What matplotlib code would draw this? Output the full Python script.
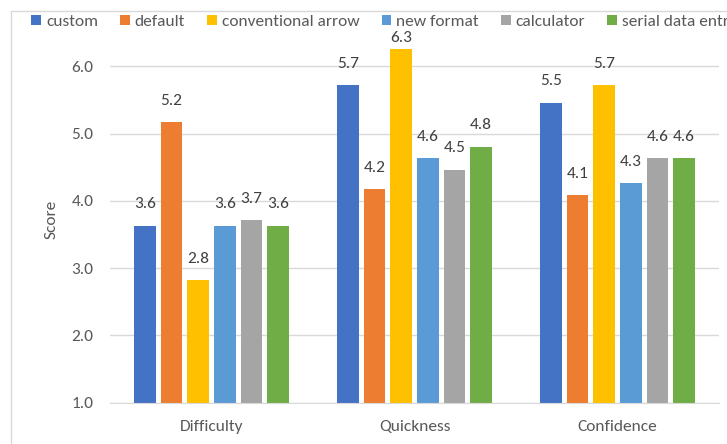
import numpy as np
import matplotlib
matplotlib.use("Agg")
import matplotlib.pyplot as plt
from matplotlib.patches import Rectangle

plt.rcParams['font.family'] = ['Carlito', 'Lato', 'DejaVu Sans']

categories = ["Difficulty", "Quickness", "Confidence"]
series = ["custom", "default", "conventional arrow", "new format", "calculator", "serial data entry"]

custom = [3.63, 5.72, 5.46]
default = [5.17, 4.17, 4.08]
conventional_arrow = [2.82, 6.26, 5.72]
new_format = [3.63, 4.63, 4.26]
calculator = [3.71, 4.46, 4.63]
serial_data_entry = [3.63, 4.80, 4.63]

values = [custom, default, conventional_arrow, new_format, calculator, serial_data_entry]
colors = ["#4472C4", "#ED7D31", "#FFC000", "#5B9BD5", "#A5A5A5", "#70AD47"]

W, H = 727, 444
fs = 12.5
fig = plt.figure(figsize=(W / 100, H / 100), dpi=100)
# chart border (cropped on the right and bottom)
fig.patches.append(Rectangle((11 / W, -0.1), 2, 1 - 11 / H + 0.1, transform=fig.transFigure,
                             fill=False, edgecolor="#D9D9D9", linewidth=1))

ax = fig.add_axes([110 / W, (H - 402.5) / H, 609 / W, 366.5 / H])
ymin, ymax = 1.0, 6.45
ax.set_ylim(ymin, ymax)
ax.set_xlim(-0.5, len(categories) - 0.5)

x = np.arange(len(categories))
pitch = 0.131
bw = 0.107
pt_per_unit = (366.5 / (ymax - ymin)) * 0.72
pad = 15.5

handles = []
for i, (name, vals, c) in enumerate(zip(series, values, colors)):
    pos = x + (i - 2.5) * pitch
    b = ax.bar(pos, np.array(vals) - ymin, bw, bottom=ymin, color=c, label=name, zorder=3)
    handles.append(b)
    for px, v in zip(pos, vals):
        # keep labels inside the plot area like Excel does
        off = min(pad, (6.42 - v) * pt_per_unit)
        ax.annotate(f"{v:.1f}", (px, v), xytext=(0, off), textcoords="offset points",
                    ha="center", va="center", fontsize=fs, color="#404040", zorder=4)

ax.set_yticks([1, 2, 3, 4, 5, 6])
ax.set_yticklabels([f"{t:.1f}" for t in [1, 2, 3, 4, 5, 6]])
ax.set_xticks(x)
ax.set_xticklabels(categories)
ax.grid(axis="y", color="#D9D9D9", linewidth=1, zorder=0)
ax.tick_params(axis="both", length=0, labelsize=fs, labelcolor="#595959")
ax.tick_params(axis="y", pad=12)
ax.tick_params(axis="x", pad=12.5)
for s in ["top", "right", "left"]:
    ax.spines[s].set_visible(False)
ax.spines["bottom"].set_color("#D9D9D9")
ax.spines["bottom"].set_zorder(5)
ax.set_ylabel("Score", fontsize=fs, color="#595959")
ax.yaxis.label.set_va("center")
ax.yaxis.set_label_coords(-58 / 609, 0.5)

fig.legend(handles=handles, loc="center left", bbox_to_anchor=(19 / W, 1 - 22 / H), ncol=6,
           frameon=False, fontsize=fs, handlelength=0.55, handleheight=0.55,
           handletextpad=0.3, columnspacing=1.27, borderpad=0.2, labelcolor="#595959")

fig.savefig("out.png", dpi=100)
